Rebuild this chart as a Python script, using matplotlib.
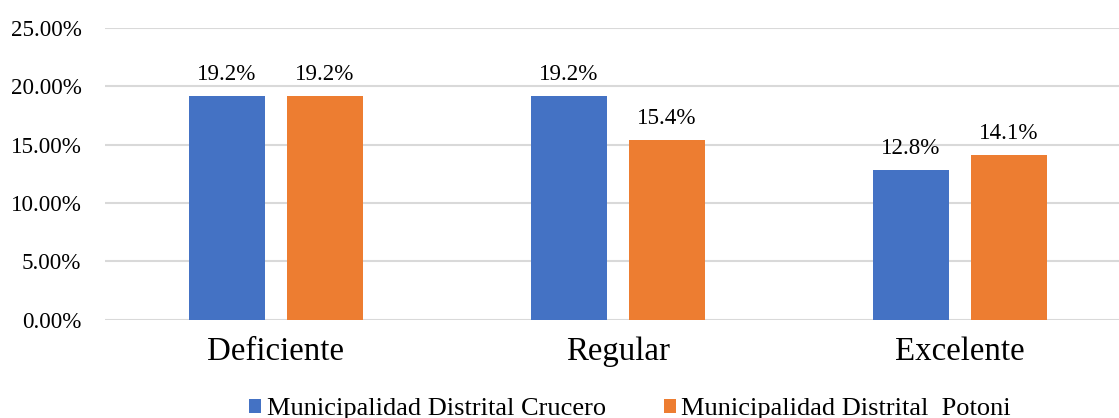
import matplotlib
matplotlib.use("Agg")
import matplotlib.pyplot as plt
import numpy as np

# data
categories = ["Deficiente", "Regular", "Excelente"]
crucero = [19.2, 19.2, 12.8]
potoni = [19.2, 15.4, 14.1]
series_names = ["Municipalidad Distrital Crucero", "Municipalidad Distrital  Potoni"]
y_ticks = [0, 5, 10, 15, 20, 25]

BLUE = "#4472C4"
ORANGE = "#ED7D31"
GRID = "#D9D9D9"

plt.rcParams["font.family"] = ["Liberation Serif", "DejaVu Serif"]

W, H = 1119, 418
fig = plt.figure(figsize=(W / 100, H / 100), dpi=100)
ax = fig.add_axes([105 / W, (H - 319.5) / H, 1 - 105 / W, 291.5 / H])

x = np.arange(len(categories))
bw = 0.222
off = 0.143
b1 = ax.bar(x - off, crucero, bw, color=BLUE, label=series_names[0], zorder=3)
b2 = ax.bar(x + off, potoni, bw, color=ORANGE, label=series_names[1], zorder=3)

for bars in (b1, b2):
    ax.bar_label(bars, labels=[f"{v:.1f}%" for v in bars.datavalues],
                 padding=8, fontsize=16.6)

ax.set_ylim(0, 25)
ax.set_xlim(-0.5, 2 + (W - 960) / 342)
ax.set_yticks(y_ticks)
ax.set_yticklabels([f"{v:.2f}%" for v in y_ticks], fontsize=16.6)
ax.set_xticks(x)
ax.set_xticklabels(categories, fontsize=23.7)
ax.tick_params(axis="y", length=0, pad=17)
ax.tick_params(axis="x", length=0, pad=12)
ax.yaxis.grid(True, color=GRID, linewidth=1.5, zorder=0)
for s in ax.spines.values():
    s.set_visible(False)

# legend sits at the bottom edge, partly cut off as in the source image
fig.legend(loc="center", bbox_to_anchor=(630 / W, 9 / H), ncol=2,
           fontsize=19, frameon=False, handlelength=0.45, handleheight=0.45,
           handletextpad=0.2, columnspacing=2.2)

fig.savefig("out.png", dpi=100)
